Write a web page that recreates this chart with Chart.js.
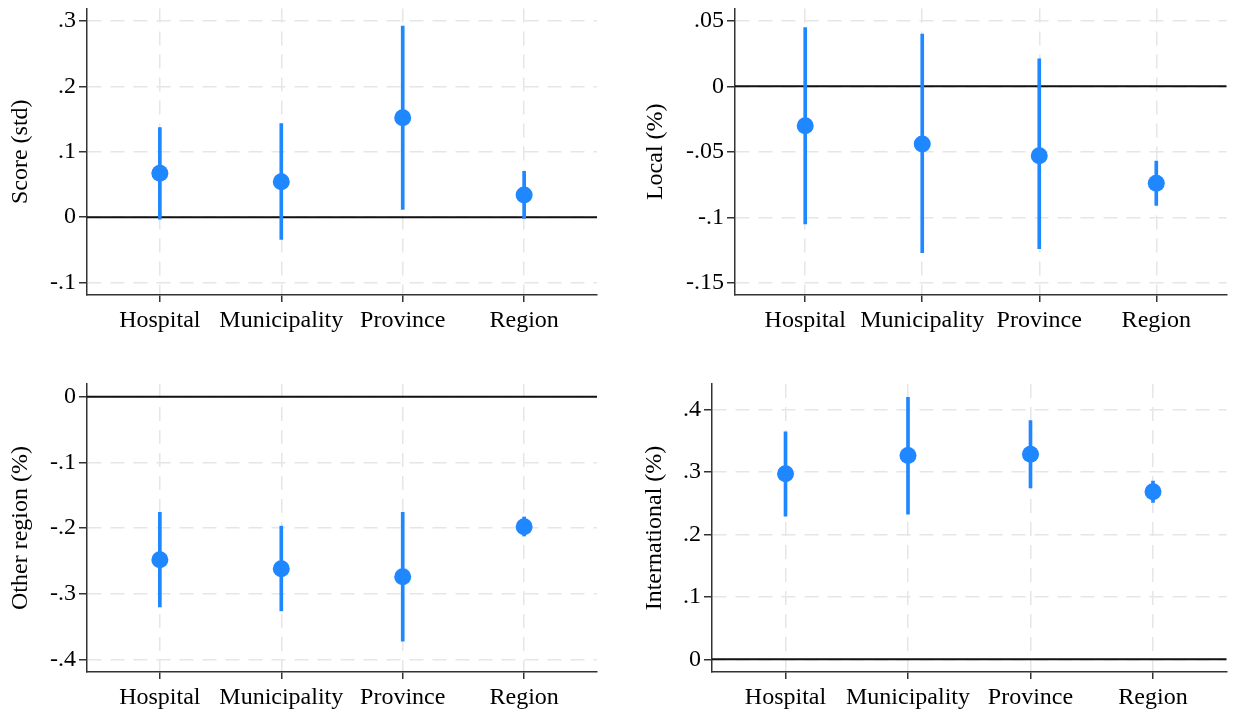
<!DOCTYPE html>
<html>
<head>
<meta charset="utf-8">
<script src="https://cdn.jsdelivr.net/npm/chart.js@4"></script>
<style>
  body { margin: 0; background: #fff; }
  .panel { position: absolute; }
</style>
</head>
<body>
<div class="panel" style="left:0;top:0;width:617px;height:355px"><canvas id="p1"></canvas></div>
<div class="panel" style="left:617px;top:0;width:618px;height:355px"><canvas id="p2"></canvas></div>
<div class="panel" style="left:0;top:355px;width:617px;height:356px"><canvas id="p3"></canvas></div>
<div class="panel" style="left:617px;top:355px;width:618px;height:356px"><canvas id="p4"></canvas></div>
<script>
const categories = ['Hospital', 'Municipality', 'Province', 'Region'];

const scoreEst = [0.067, 0.054, 0.152, 0.034];
const scoreLo = [-0.003, -0.034, 0.012, -0.002];
const scoreHi = [0.137, 0.143, 0.292, 0.070];
const scoreTicks = [-0.1, 0, 0.1, 0.2, 0.3];

const localEst = [-0.030, -0.044, -0.053, -0.074];
const localLo = [-0.105, -0.127, -0.124, -0.091];
const localHi = [0.045, 0.040, 0.021, -0.057];
const localTicks = [-0.15, -0.1, -0.05, 0, 0.05];

const otherEst = [-0.248, -0.262, -0.274, -0.198];
const otherLo = [-0.320, -0.326, -0.372, -0.212];
const otherHi = [-0.176, -0.197, -0.176, -0.183];
const otherTicks = [-0.4, -0.3, -0.2, -0.1, 0];

const intlEst = [0.297, 0.326, 0.328, 0.268];
const intlLo = [0.229, 0.232, 0.274, 0.251];
const intlHi = [0.364, 0.419, 0.382, 0.285];
const intlTicks = [0, 0.1, 0.2, 0.3, 0.4];

const blue = '#1f87ff';
const font = { family: '"Liberation Serif", "Times New Roman", serif', size: 24 };

function fmt(v) {
  if (v === 0) return '0';
  return String(v).replace('0.', '.');
}

// solid black reference line at zero, under the markers
const zeroLine = {
  id: 'zeroLine',
  beforeDatasetsDraw(chart) {
    const { ctx, chartArea, scales } = chart;
    const y = scales.y.getPixelForValue(0);
    ctx.save();
    ctx.strokeStyle = '#111';
    ctx.lineWidth = 2;
    ctx.beginPath();
    ctx.moveTo(chartArea.left, y);
    ctx.lineTo(chartArea.right, y);
    ctx.stroke();
    ctx.restore();
  }
};

function makePanel(id, p) {
  const pos = categories.map((c, i) => i + 1);
  new Chart(document.getElementById(id), {
    type: 'scatter',
    data: {
      datasets: [
        {
          type: 'bar',
          data: pos.map((x, i) => ({ x: x, y: [p.lo[i], p.hi[i]] })),
          backgroundColor: blue,
          barThickness: 3,
          borderWidth: 0
        },
        {
          type: 'scatter',
          data: pos.map((x, i) => ({ x: x, y: p.est[i] })),
          backgroundColor: blue,
          pointRadius: 8.5,
          pointBorderWidth: 0
        }
      ]
    },
    options: {
      responsive: true,
      maintainAspectRatio: false,
      animation: false,
      layout: { padding: { top: p.padTop, right: p.padRight, left: 0, bottom: 0 } },
      plugins: { legend: { display: false }, tooltip: { enabled: false } },
      scales: {
        x: {
          type: 'linear',
          min: 0.4,
          max: 4.6,
          offset: false,
          afterBuildTicks: s => { s.ticks = pos.map(v => ({ value: v })); },
          afterFit: s => { s.height = p.xHeight; s.paddingLeft = 0; s.paddingRight = 0; },
          ticks: {
            callback: v => categories[v - 1],
            font: font,
            color: '#000',
            padding: 4,
            maxRotation: 0,
            autoSkip: false
          },
          grid: { offset: false, color: '#e6e6e6', lineWidth: 1.5, tickLength: 7, tickColor: '#333', tickWidth: 1.5 },
          border: { color: '#333', width: 1.5, dash: [14, 9] }
        },
        y: {
          min: p.yMin,
          max: p.yMax,
          afterBuildTicks: s => { s.ticks = p.ticks.map(v => ({ value: v })); },
          afterFit: s => { s.width = p.yWidth; s.paddingTop = 0; s.paddingBottom = 0; },
          ticks: { callback: v => fmt(v), font: font, color: '#000', padding: 3 },
          grid: { color: '#e6e6e6', lineWidth: 1.5, tickLength: 8, tickColor: '#333', tickWidth: 1.5 },
          border: { color: '#333', width: 1.5, dash: [14, 9] },
          title: { display: true, text: p.title, font: font, color: '#000', padding: { top: p.titlePad, bottom: 0 } }
        }
      }
    },
    plugins: [zeroLine]
  });
}

makePanel('p1', { est: scoreEst, lo: scoreLo, hi: scoreHi, ticks: scoreTicks, title: 'Score (std)',
  yMin: -0.119, yMax: 0.319, yWidth: 87, xHeight: 60, padTop: 8, padRight: 20, titlePad: 6 });
makePanel('p2', { est: localEst, lo: localLo, hi: localHi, ticks: localTicks, title: 'Local (%)',
  yMin: -0.1594, yMax: 0.0595, yWidth: 118, xHeight: 60, padTop: 8, padRight: 4, titlePad: 24 });
makePanel('p3', { est: otherEst, lo: otherLo, hi: otherHi, ticks: otherTicks, title: 'Other region (%)',
  yMin: -0.419, yMax: 0.0194, yWidth: 87, xHeight: 39, padTop: 29, padRight: 20, titlePad: 6 });
makePanel('p4', { est: intlEst, lo: intlLo, hi: intlHi, ticks: intlTicks, title: 'International (%)',
  yMin: -0.0204, yMax: 0.4405, yWidth: 95, xHeight: 39, padTop: 29, padRight: 4, titlePad: 23 });
</script>
</body>
</html>
